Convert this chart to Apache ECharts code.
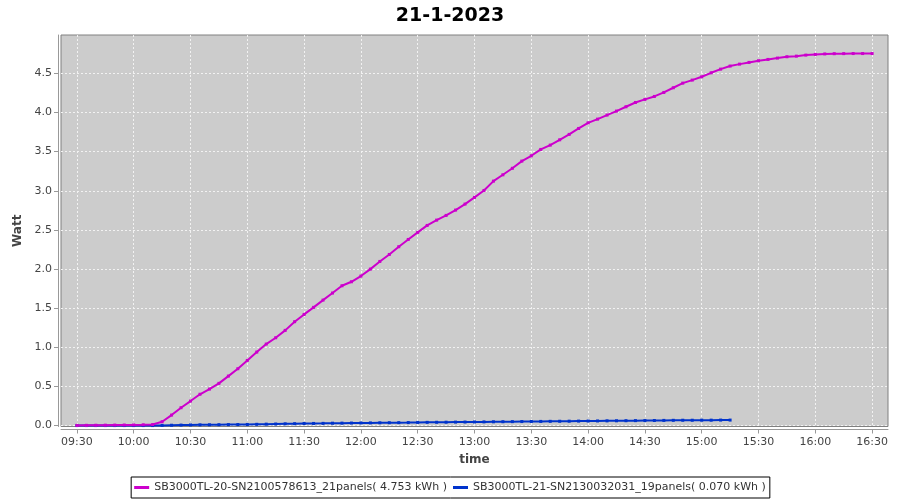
<!DOCTYPE html>
<html>
<head>
<meta charset="utf-8">
<script src="https://cdn.jsdelivr.net/npm/echarts@6/dist/echarts.min.js"></script>
<style>html,body{margin:0;padding:0;background:#fff}#c{width:900px;height:500px}</style>
</head>
<body>
<div id="c"></div>
<script>
var chartTitle = '21-1-2023';
var xAxisName = 'time';
var yAxisName = 'Watt';
var seriesNames = [
  'SB3000TL-20-SN2100578613_21panels( 4.753 kWh )',
  'SB3000TL-21-SN2130032031_19panels( 0.070 kWh )'
];
var xTickLabels = ['09:30','10:00','10:30','11:00','11:30','12:00','12:30','13:00','13:30','14:00','14:30','15:00','15:30','16:00','16:30'];
var yTickValues = [0, 0.5, 1.0, 1.5, 2.0, 2.5, 3.0, 3.5, 4.0, 4.5];

var timesA = ['09:30','09:35','09:40','09:45','09:50','09:55','10:00','10:05','10:10','10:15','10:20','10:25',
  '10:30','10:35','10:40','10:45','10:50','10:55','11:00','11:05','11:10','11:15','11:20','11:25',
  '11:30','11:35','11:40','11:45','11:50','11:55','12:00','12:05','12:10','12:15','12:20','12:25',
  '12:30','12:35','12:40','12:45','12:50','12:55','13:00','13:05','13:10','13:15','13:20','13:25',
  '13:30','13:35','13:40','13:45','13:50','13:55','14:00','14:05','14:10','14:15','14:20','14:25',
  '14:30','14:35','14:40','14:45','14:50','14:55','15:00','15:05','15:10','15:15','15:20','15:25',
  '15:30','15:35','15:40','15:45','15:50','15:55','16:00','16:05','16:10','16:15','16:20','16:25','16:30'];
var valuesA = [0.002,0.003,0.004,0.005,0.006,0.007,0.008,0.010,0.013,0.049,0.134,0.228,
  0.313,0.400,0.466,0.539,0.632,0.726,0.832,0.939,1.041,1.122,1.216,1.327,
  1.420,1.510,1.603,1.693,1.786,1.837,1.910,1.999,2.097,2.186,2.285,2.378,
  2.468,2.557,2.625,2.685,2.753,2.830,2.915,3.004,3.123,3.204,3.287,3.379,
  3.447,3.528,3.583,3.651,3.720,3.796,3.868,3.915,3.967,4.018,4.073,4.128,
  4.167,4.205,4.256,4.316,4.375,4.414,4.456,4.507,4.554,4.593,4.618,4.640,
  4.661,4.678,4.695,4.712,4.720,4.733,4.742,4.748,4.751,4.752,4.753,4.753,4.753];

var timesB = ['09:30','09:35','09:40','09:45','09:50','09:55','10:00','10:05','10:10','10:15','10:20','10:25',
  '10:30','10:35','10:40','10:45','10:50','10:55','11:00','11:05','11:10','11:15','11:20','11:25',
  '11:30','11:35','11:40','11:45','11:50','11:55','12:00','12:05','12:10','12:15','12:20','12:25',
  '12:30','12:35','12:40','12:45','12:50','12:55','13:00','13:05','13:10','13:15','13:20','13:25',
  '13:30','13:35','13:40','13:45','13:50','13:55','14:00','14:05','14:10','14:15','14:20','14:25',
  '14:30','14:35','14:40','14:45','14:50','14:55','15:00','15:05','15:10','15:15'];
var valuesB = [0.000,0.000,0.000,0.000,0.000,0.000,0.000,0.000,0.000,0.002,0.004,0.006,
  0.008,0.009,0.010,0.011,0.012,0.013,0.014,0.016,0.018,0.020,0.022,0.024,
  0.026,0.027,0.028,0.030,0.031,0.032,0.033,0.034,0.035,0.036,0.037,0.038,
  0.040,0.041,0.042,0.043,0.044,0.045,0.046,0.047,0.048,0.049,0.050,0.051,
  0.052,0.053,0.054,0.055,0.056,0.057,0.058,0.059,0.060,0.061,0.062,0.063,
  0.064,0.065,0.066,0.067,0.068,0.068,0.069,0.069,0.070,0.070];

function toMin(s){ var p = s.split(':'); return (+p[0]) * 60 + (+p[1]); }
function fmt(m){ var h = Math.floor(m/60), mm = Math.round(m - h*60); return (h<10?'0':'')+h+':'+(mm<10?'0':'')+mm; }
function pairs(t, v){ return t.map(function(s,i){ return [toMin(s), v[i]]; }); }

var xTickValues = xTickLabels.map(toMin);
var FONT = 'DejaVu Sans';

var chart = echarts.init(document.getElementById('c'), null, {renderer:'canvas'});
chart.setOption({
  animation: false,
  backgroundColor: '#ffffff',
  title: {
    text: chartTitle, left: 'center', top: 2,
    textStyle: {fontFamily: FONT, fontSize: 19, fontWeight: 'bold', color: '#000'}
  },
  grid: {
    left: 61, right: 12, top: 35, bottom: 73.5, containLabel: false,
    show: true, backgroundColor: '#cccccc', borderColor: '#808080', borderWidth: 1
  },
  legend: {
    bottom: 2, left: 'center',
    data: seriesNames.map(function(n){ return {name: n, icon: 'rect'}; }),
    orient: 'horizontal',
    borderColor: '#000', borderWidth: 1, padding: [4, 4, 4, 3],
    itemWidth: 15, itemHeight: 3, itemGap: 6,
    textStyle: {fontFamily: FONT, fontSize: 11, color: '#333', lineHeight: 13}
  },
  xAxis: {
    type: 'value', min: 561.6, max: 998.4, offset: 3,
    name: xAxisName, nameLocation: 'middle', nameGap: 24,
    nameTextStyle: {fontFamily: FONT, fontSize: 12, fontWeight: 'bold', color: '#444'},
    axisLine: {show: true, onZero: false, lineStyle: {color: '#999', width: 1}},
    axisTick: {show: true, length: 4, inside: false, customValues: xTickValues, lineStyle: {color: '#999'}},
    axisLabel: {customValues: xTickValues, fontFamily: FONT, fontSize: 11, color: '#444', margin: 7,
      formatter: function(v){ return fmt(v); }},
    splitLine: {show: true, lineStyle: {color: '#f2f2f2', type: [2, 2], width: 1}}
  },
  yAxis: {
    type: 'value', min: -0.012, max: 4.99, offset: 3,
    name: yAxisName, nameLocation: 'middle', nameGap: 27,
    nameTextStyle: {fontFamily: FONT, fontSize: 12, fontWeight: 'bold', color: '#444'},
    axisLine: {show: true, onZero: false, lineStyle: {color: '#999', width: 1}},
    axisTick: {show: true, length: 4, inside: false, customValues: yTickValues, lineStyle: {color: '#999'}},
    axisLabel: {customValues: yTickValues, fontFamily: FONT, fontSize: 11, color: '#444', margin: 6,
      formatter: function(v){ return v.toFixed(1); }},
    splitLine: {show: true, lineStyle: {color: '#f2f2f2', type: [2, 2], width: 1}}
  },
  series: [
    {
      name: seriesNames[1], type: 'line', z: 2,
      data: pairs(timesB, valuesB),
      symbol: 'rect', symbolSize: 3, showSymbol: true,
      lineStyle: {color: '#0033cc', width: 2},
      itemStyle: {color: '#0033cc'}
    },
    {
      name: seriesNames[0], type: 'line', z: 3,
      data: pairs(timesA, valuesA),
      symbol: 'rect', symbolSize: 3, showSymbol: true,
      lineStyle: {color: '#cc00cc', width: 2},
      itemStyle: {color: '#cc00cc'}
    }
  ]
});
</script>
</body>
</html>
